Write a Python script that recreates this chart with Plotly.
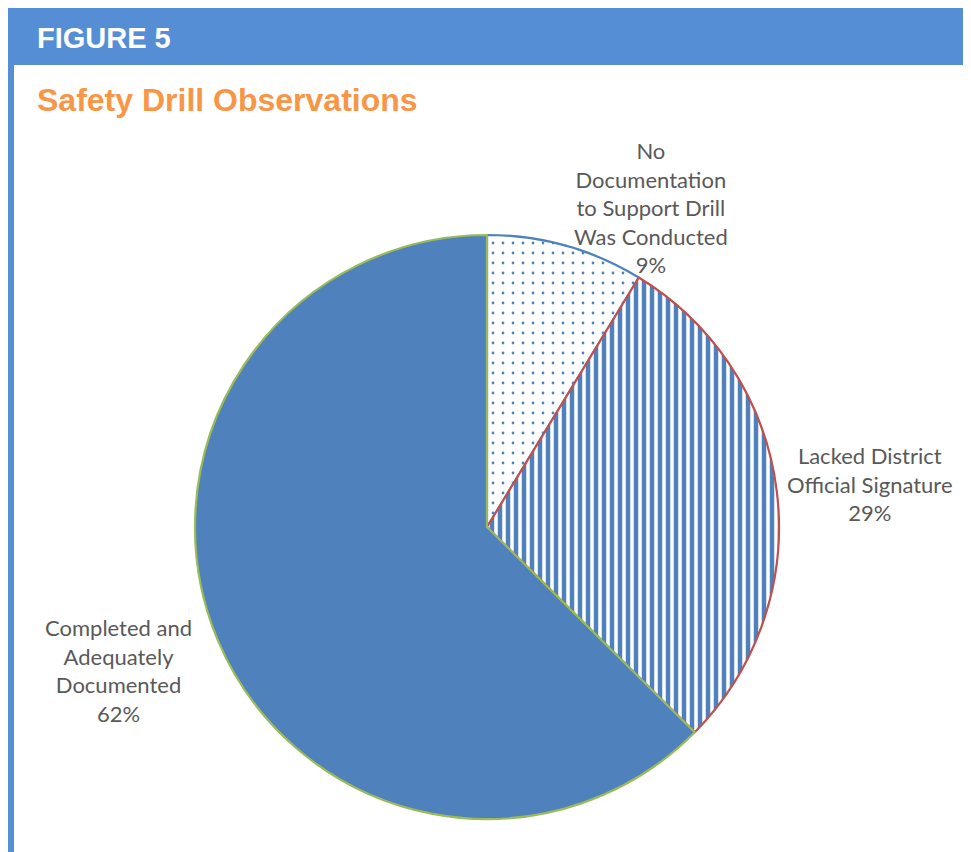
import plotly.graph_objects as go

# ---- data ----
categories = ["No<br>Documentation<br>to Support Drill<br>Was Conducted",
              "Lacked District<br>Official Signature",
              "Completed and<br>Adequately<br>Documented"]
values = [8.7, 28.7, 62.6]
display_pct = ["9%", "29%", "62%"]
header_text = "FIGURE 5"
title_text = "Safety Drill Observations"

OFF = 8  # browser body margin
W, H = 971, 852
BLUE = "#4F81BD"
HEADER = "#558ED5"

def px(x):
    return max(0.0, min(1.0, (x - OFF) / W))

def py(y):
    return max(0.0, min(1.0, 1 - (y - OFF) / H))

fig = go.Figure()
fig.add_trace(go.Pie(
    labels=[c.replace("<br>", " ") for c in categories],
    values=values,
    sort=False,
    direction="clockwise",
    rotation=0,
    textinfo="none",
    hoverinfo="label+percent",
    marker=dict(
        colors=["white", "white", BLUE],
        line=dict(color=[BLUE, "#C0504D", "#9BBB59"], width=2.2),
        pattern=dict(
            shape=[".", "|", ""],
            fgcolor=[BLUE, BLUE, BLUE],
            bgcolor=["white", "white", BLUE],
            size=[10, 8, 8],
            solidity=[0.06, 0.56, 0.5],
        ),
    ),
    domain=dict(x=[px(195), px(779)], y=[py(819), py(235)]),
    showlegend=False,
))

label_pos = [(651, 207), (870, 484), (118, 670)]
annotations = []
for cat, pct, (x, y) in zip(categories, display_pct, label_pos):
    annotations.append(dict(
        x=px(x), y=py(y), xref="paper", yref="paper",
        text=cat + "<br>" + pct, showarrow=False,
        xanchor="center", yanchor="middle", align="center",
        font=dict(family="Lato", size=22, color="#595959"),
    ))

annotations.append(dict(
    x=px(35), y=py(38), xref="paper", yref="paper", text="<b>" + header_text + "</b>",
    showarrow=False, xanchor="left", yanchor="middle",
    font=dict(family="Liberation Sans", size=29, color="white"),
))
annotations.append(dict(
    x=px(35), y=py(100), xref="paper", yref="paper", text="<b>" + title_text + "</b>",
    showarrow=False, xanchor="left", yanchor="middle",
    font=dict(family="Liberation Sans", size=32, color="#F79646"),
))

shapes = [
    dict(type="rect", xref="paper", yref="paper", x0=0, x1=1, y0=py(65), y1=1,
         fillcolor=HEADER, line=dict(width=0), layer="below"),
    dict(type="rect", xref="paper", yref="paper", x0=0, x1=px(14), y0=0, y1=1,
         fillcolor=HEADER, line=dict(width=0), layer="below"),
]

fig.update_layout(
    width=W, height=H,
    margin=dict(l=0, r=0, t=0, b=0),
    paper_bgcolor="white", plot_bgcolor="white",
    annotations=annotations, shapes=shapes,
)

fig.write_html("out.html")
